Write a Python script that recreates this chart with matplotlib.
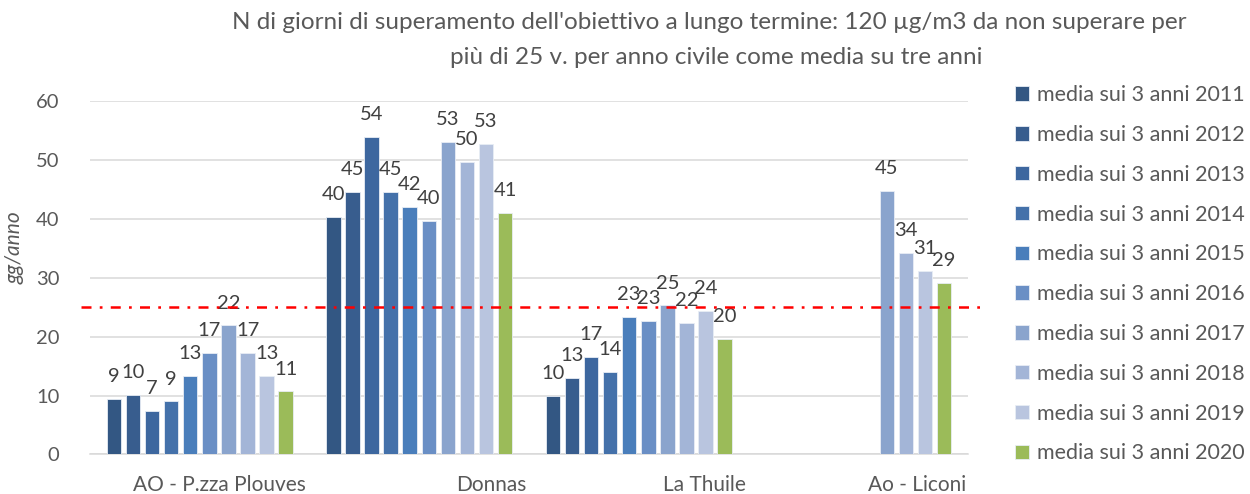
import numpy as np
import matplotlib
matplotlib.use("Agg")
import matplotlib.pyplot as plt

# stazioni e serie (media sui 3 anni)
stazioni = ["AO - P.zza Plouves", "Donnas", "La Thuile", "Ao - Liconi"]
anni = [2011, 2012, 2013, 2014, 2015, 2016, 2017, 2018, 2019, 2020]

v2011 = [9.4, 40.3, 10.0, np.nan]
v2012 = [10.1, 44.6, 13.0, np.nan]
v2013 = [7.4, 53.9, 16.6, np.nan]
v2014 = [9.0, 44.6, 14.0, np.nan]
v2015 = [13.4, 42.0, 23.4, np.nan]
v2016 = [17.2, 39.7, 22.7, np.nan]
v2017 = [21.9, 53.0, 25.3, 44.8]
v2018 = [17.2, 49.7, 22.3, 34.2]
v2019 = [13.3, 52.7, 24.4, 31.1]
v2020 = [10.7, 41.0, 19.6, 29.1]

soglia = 25

colori = ["#335783", "#385d8e", "#3d679f", "#4471aa", "#4a7ebb",
          "#6a8fc5", "#8aa4cd", "#a3b5d7", "#b9c5df", "#9bbb59"]


def main():
    plt.rcParams["font.family"] = ["Lato", "DejaVu Sans"]
    serie = [v2011, v2012, v2013, v2014, v2015, v2016, v2017, v2018, v2019, v2020]

    fig = plt.figure(figsize=(12.5, 4.94), dpi=100)
    ax = fig.add_axes([0.072, 0.08, 0.7024, 0.7155])

    x = np.arange(len(stazioni))
    passo = 0.087
    larg = 0.066
    testo = "#404040"

    for i, (vals, col) in enumerate(zip(serie, colori)):
        pos = x + (i - 4.5) * passo
        ax.bar(pos, vals, width=larg, color=col, edgecolor="#e8edf5",
               linewidth=0.6, label=f"media sui 3 anni {anni[i]}", zorder=3)
        for px, v in zip(pos, vals):
            if np.isnan(v):
                continue
            ax.annotate(f"{v:.0f}", (px, v), xytext=(0, 10), textcoords="offset points",
                        ha="center", va="bottom", fontsize=14.5, color=testo)

    # soglia 25 v.
    ax.plot([-0.01, 1.018], [soglia, soglia], transform=ax.get_yaxis_transform(),
            color="#ff0000", lw=1.8, dashes=(4, 3.3, 1.1, 3.3), clip_on=False, zorder=4)

    ax.set_xlim(-0.5, len(stazioni) - 0.5)
    ax.set_ylim(0, 60)
    ax.set_yticks(range(0, 61, 10))
    ax.grid(True, axis="y", color="#d9d9d9", linewidth=1.1, zorder=0)
    for s in ["top", "right", "left"]:
        ax.spines[s].set_visible(False)
    ax.spines["bottom"].set_color("#d9d9d9")
    ax.spines["bottom"].set_linewidth(1.1)

    spost = [0.09, 0.33, 0.30, 0.27]
    ax.set_xticks(x + np.array(spost))
    ax.set_xticklabels(stazioni)
    ax.tick_params(axis="x", length=0, pad=15, labelsize=15, labelcolor="#595959")
    ax.tick_params(axis="y", length=0, pad=22, labelsize=14.5, labelcolor="#595959")

    ax.set_ylabel("gg/anno", fontsize=15, style="italic", color="#595959")
    ax.yaxis.set_label_coords(-0.074, 0.585)

    fig.text(0.1856, 0.955, "N di giorni di superamento dell'obiettivo a lungo termine: 120 µg/m3 da non superare per",
             ha="left", va="center", fontsize=17.5, color="#595959")
    fig.text(0.36, 0.883, "più di 25 v. per anno civile come media su tre anni",
             ha="left", va="center", fontsize=17.5, color="#595959")

    ax.legend(loc="upper left", bbox_to_anchor=(0.805, 0.845), bbox_transform=fig.transFigure,
              frameon=False, fontsize=15.5, labelcolor="#595959", handlelength=0.65,
              handleheight=0.65, handletextpad=0.4, labelspacing=0.92, borderaxespad=0)

    fig.savefig("out.png", dpi=100)


if __name__ == "__main__":
    main()
